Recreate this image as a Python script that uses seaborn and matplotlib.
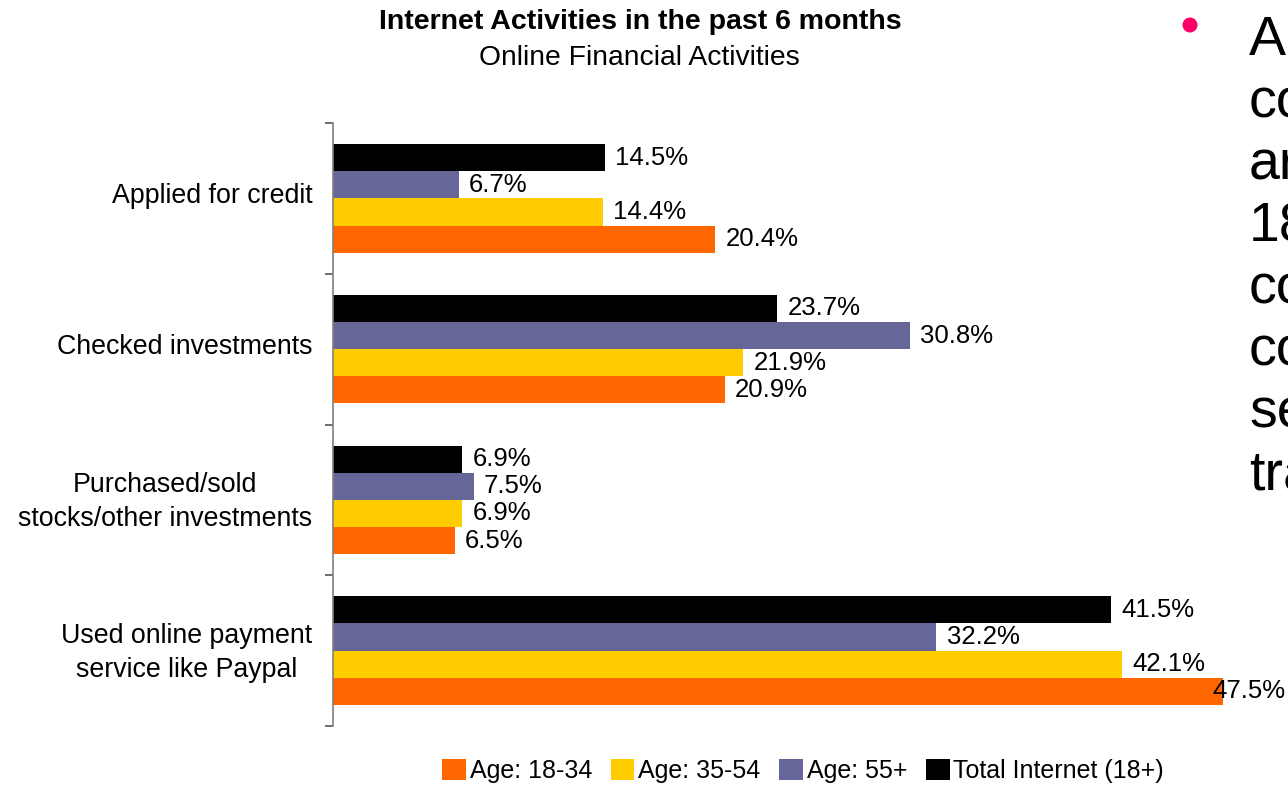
import matplotlib
matplotlib.use("Agg")
import matplotlib.pyplot as plt
from matplotlib.patches import Patch, Ellipse
from matplotlib.transforms import ScaledTranslation
import seaborn as sns
import pandas as pd

# Data
activities = [
    "Applied for credit",
    "Checked investments",
    "Purchased/sold\nstocks/other investments",
    "Used online payment\nservice like Paypal",
]
groups = ["Age: 18-34", "Age: 35-54", "Age: 55+", "Total Internet (18+)"]
age_18_34 = [20.4, 20.9, 6.5, 47.5]
age_35_54 = [14.4, 21.9, 6.9, 42.1]
age_55_plus = [6.7, 30.8, 7.5, 32.2]
total_internet = [14.5, 23.7, 6.9, 41.5]
colors = ["#FF6600", "#FFCC00", "#666699", "#000000"]

series = [age_18_34, age_35_54, age_55_plus, total_internet]
rows = []
for g, vals in zip(groups, series):
    for a, v in zip(activities, vals):
        rows.append({"activity": a, "group": g, "pct": v})
df = pd.DataFrame(rows)

sns.set_theme(style="white")
plt.rcParams["font.family"] = ["Liberation Sans", "DejaVu Sans"]
plt.rcParams["text.color"] = "black"
plt.rcParams["ytick.labelcolor"] = "black"

fig = plt.figure(figsize=(12.88, 7.85), dpi=100)
ax = fig.add_axes([333 / 1288, 59 / 785, 937 / 1288, 603 / 785])

# Total on top of each group, youngest age at the bottom
draw_order = groups[::-1]
palette = dict(zip(groups, colors))
sns.barplot(
    data=df, y="activity", x="pct", hue="group", hue_order=draw_order,
    order=activities, palette=palette, orient="h", width=0.72, gap=0,
    saturation=1, legend=False, ax=ax, errorbar=None,
    linewidth=0, edgecolor="none",
)

ax.set_xlim(0, 50)
ax.set_ylim(3.5, -0.5)
ax.set_xlabel("")
ax.set_ylabel("")
ax.set_xticks([])
for s in ["top", "right", "bottom"]:
    ax.spines[s].set_visible(False)
ax.spines["left"].set_color("#808080")
ax.spines["left"].set_linewidth(1.2)

ax.set_yticks(range(len(activities)))
ax.set_yticklabels(activities, fontsize=19.3)
ax.set_yticks([-0.5, 0.5, 1.5, 2.5, 3.5], minor=True)
ax.tick_params(axis="y", which="major", length=0, pad=15)
ax.tick_params(axis="y", which="minor", length=6, width=1.2, color="#555555", left=True)
shift_up = ScaledTranslation(0, 5 / 100, fig.dpi_scale_trans)
for lbl in ax.get_yticklabels():
    lbl.set_multialignment("center")
    lbl.set_linespacing(1.4)
    lbl.set_transform(lbl.get_transform() + shift_up)

# Value labels
for container, g in zip(ax.containers, draw_order):
    for bar in container:
        v = bar.get_width()
        y = bar.get_y() + bar.get_height() / 2
        ax.text(min(v + 0.55, 46.95), y, f"{v:.1f}%", va="center", ha="left",
                fontsize=18.5, color="black", clip_on=False)

# Titles
fig.text(640 / 1288, 1 - 22 / 785, "Internet Activities in the past 6 months",
         ha="center", va="center", fontsize=20.5, fontweight="bold")
fig.text(639 / 1288, 1 - 58 / 785, "Online Financial Activities",
         ha="center", va="center", fontsize=20.3)

# Legend
handles = [Patch(facecolor=c, edgecolor="none") for c in colors]
fig.legend(handles, groups, loc="center", bbox_to_anchor=(803 / 1288, 1 - 771 / 785),
           ncol=4, frameon=False, fontsize=18, handlelength=0.95, handleheight=0.95,
           handletextpad=0.15, columnspacing=0.75)

# Side bullet text
fig.add_artist(Ellipse((1190 / 1288, 1 - 25 / 785), 15 / 1288, 15 / 785,
                       transform=fig.transFigure, facecolor="#FF0066", edgecolor="none"))
side_lines = ["A", "co", "ar", "18", "co", "co", "se", "tra"]
for i, t in enumerate(side_lines):
    fig.text(1249 / 1288, 1 - (55 + 62 * i) / 785, t, ha="left", va="baseline",
             fontsize=40, color="black")

fig.savefig("out.png", dpi=100)
